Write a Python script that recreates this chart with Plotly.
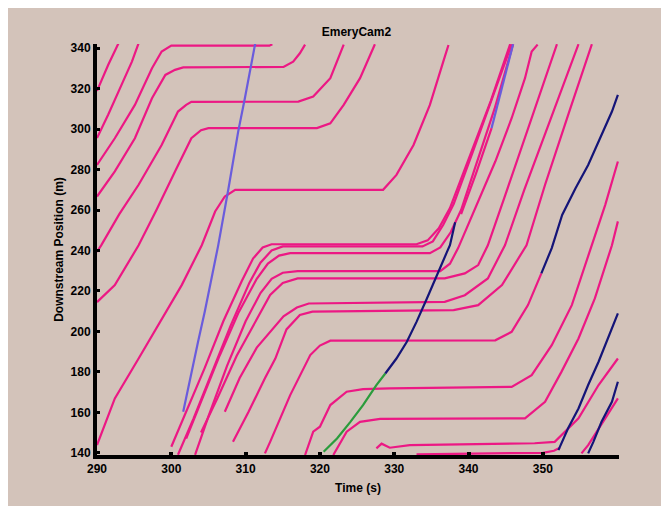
import plotly.graph_objects as go

# ---------------- data (time in s, downstream position in m) ----------------
L1_t = [290.0, 291.5, 292.9]
L1_y = [318.9, 331.7, 342.5]
L2_t = [290.0, 291.5, 293.3, 294.7, 295.6]
L2_y = [295.6, 307.1, 321.9, 333.4, 342.5]
L3_t = [290.0, 292.4, 295.1, 297.4, 298.7, 300.0, 305.0, 313.2, 313.6]
L3_y = [282.3, 295.5, 312.0, 330.1, 338.4, 341.3, 341.3, 341.3, 342.0]
L4_t = [290.0, 292.4, 295.1, 297.4, 299.2, 300.5, 301.6, 315.1, 316.4, 317.3, 318.0]
L4_y = [266.7, 279.1, 295.5, 315.3, 326.8, 329.3, 330.5, 330.8, 333.4, 337.5, 341.8]
L5_t = [290.0, 290.6, 293.0, 295.6, 298.7, 300.9, 302.0, 302.7, 317.1, 319.1, 321.4, 323.2]
L5_y = [239.3, 242.8, 258.0, 272.5, 292.2, 308.7, 312.0, 313.5, 313.6, 316.1, 325.2, 341.8]
L6_t = [290.0, 292.4, 295.6, 298.0, 300.5, 302.7, 304.0, 305.0, 319.6, 321.4, 323.2, 325.4, 327.4]
L6_y = [214.5, 222.9, 242.6, 260.0, 279.1, 295.5, 299.5, 300.5, 300.5, 302.9, 312.0, 325.2, 342.0]
L7_t = [290.0, 292.4, 295.6, 298.7, 301.4, 304.1, 305.9, 307.2, 308.6, 328.5, 330.3, 332.6, 334.8, 336.6, 337.3]
L7_y = [143.8, 166.9, 186.6, 206.4, 222.9, 242.6, 259.3, 266.7, 270.0, 270.0, 277.4, 292.2, 312.0, 333.4, 341.6]

H0_t = [300.0, 302.0, 304.5, 307.0, 309.5, 311.0, 312.3, 313.5, 333.0, 334.5, 336.0, 337.5, 340.0, 343.0, 345.6]
H0_y = [143.0, 160.0, 182.0, 205.0, 225.0, 236.0, 241.5, 243.1, 243.1, 245.0, 251.0, 261.0, 285.0, 314.0, 342.0]
B1_t = [300.9, 303.0, 305.5, 308.0, 310.5, 312.0, 313.5, 315.0, 333.8, 335.2, 336.6, 338.0, 340.5, 343.2, 345.8]
B1_y = [139.0, 157.0, 180.0, 203.0, 224.0, 234.0, 240.0, 242.0, 242.0, 244.5, 252.7, 263.0, 288.0, 315.0, 342.0]
B2_t = [302.0, 304.0, 306.5, 309.0, 311.5, 313.0, 314.5, 316.0, 334.8, 336.2, 337.6, 339.0, 341.0, 343.5, 346.0]
B2_y = [147.0, 165.0, 188.0, 209.0, 226.0, 233.5, 237.5, 238.7, 238.7, 241.5, 249.0, 260.0, 282.0, 310.0, 342.0]
B3_t = [303.2, 305.0, 307.5, 310.0, 312.0, 313.5, 315.0, 317.0, 336.2, 337.5, 338.6, 341.3, 343.6, 345.8, 347.6, 348.5, 349.0, 349.3]
B3_y = [139.0, 158.0, 183.0, 205.0, 219.0, 226.0, 229.0, 229.8, 229.8, 233.5, 241.2, 264.2, 284.0, 305.4, 325.2, 338.4, 340.8, 341.8]
B4_t = [304.0, 306.2, 308.8, 311.3, 313.3, 315.0, 317.0, 336.8, 339.5, 341.3, 342.6, 345.0, 348.0, 350.0, 351.9]
B4_y = [150.0, 167.0, 188.0, 205.0, 218.0, 224.0, 226.2, 226.2, 228.7, 232.8, 242.6, 268.0, 300.0, 321.0, 342.0]
Bb_t = [307.2, 309.2, 311.5, 313.3, 315.1, 316.9, 318.5, 336.8, 339.5, 342.6, 344.9, 347.5, 350.5, 354.8]
Bb_y = [160.3, 177.0, 192.0, 200.0, 207.5, 211.8, 213.8, 214.6, 217.9, 226.2, 242.6, 270.0, 300.0, 342.0]
Bc_t = [308.3, 310.4, 312.6, 314.0, 315.5, 317.3, 319.0, 338.0, 341.3, 344.5, 347.8, 350.3, 353.5, 356.6]
Bc_y = [145.4, 160.3, 176.8, 186.6, 201.0, 208.1, 209.8, 210.5, 213.0, 222.9, 242.6, 272.5, 308.0, 342.0]
P1_t = [312.6, 313.3, 316.0, 318.7, 320.0, 321.4, 343.6, 345.8, 348.0, 349.8]
P1_y = [139.7, 145.4, 168.5, 188.3, 193.0, 195.4, 195.6, 199.8, 213.0, 228.7]
E_t = [318.0, 319.1, 320.0, 321.4, 323.6, 325.8, 329.4, 345.8, 348.5, 351.2, 353.9, 356.6, 358.4, 360.1]
E_y = [138.9, 150.4, 152.9, 163.6, 170.2, 171.5, 171.8, 172.6, 178.4, 193.2, 213.0, 242.6, 262.6, 284.0]
F_t = [321.8, 323.6, 325.4, 328.1, 347.6, 350.3, 352.5, 354.8, 357.0, 359.3, 360.1]
F_y = [138.9, 150.4, 155.3, 156.8, 157.0, 165.2, 180.0, 196.5, 216.3, 242.6, 254.4]
G_t = [327.6, 328.3, 329.4, 332.1, 348.9, 351.6, 354.8, 357.5, 360.1]
G_y = [142.2, 144.5, 142.5, 143.8, 144.7, 145.4, 157.0, 173.5, 186.6]
Hh_t = [355.2, 356.1, 358.4, 360.1]
Hh_y = [139.7, 143.8, 157.0, 166.9]
I_t = [333.0, 340.0, 350.0, 351.5, 352.3]
I_y = [139.2, 139.6, 140.0, 141.0, 142.5]
Q_t = [339.0, 341.0, 343.1]
Q_y = [258.0, 278.0, 300.5]

PURPLE1_t = [301.6, 302.7, 303.6, 304.5, 305.4, 306.3, 307.7, 309.0, 309.9, 310.8, 311.3]
PURPLE1_y = [160.3, 180.0, 194.9, 209.7, 226.2, 242.3, 270.8, 298.8, 315.3, 331.7, 342.5]
PURPLE2_t = [343.1, 344.6, 346.0]
PURPLE2_y = [300.5, 322.0, 342.0]

GREEN_t = [320.5, 322.3, 324.1, 325.8, 327.6, 328.8]
GREEN_y = [140.5, 147.1, 155.3, 163.6, 173.5, 179.2]
N1_t = [328.8, 330.3, 331.7, 333.0, 334.4, 335.7, 337.1, 337.5, 338.2]
N1_y = [179.2, 186.6, 194.9, 204.7, 216.3, 227.8, 239.3, 242.6, 254.0]
N2_t = [349.8, 351.2, 352.6, 354.4, 356.1, 357.9, 359.3, 360.1]
N2_y = [228.7, 241.2, 257.6, 270.8, 282.3, 297.2, 308.7, 316.9]
N3_t = [352.1, 353.4, 354.8, 356.1, 357.5, 358.8, 360.1]
N3_y = [141.3, 152.1, 161.9, 173.5, 185.0, 196.5, 208.9]
N4_t = [356.1, 356.8, 357.9, 359.3, 360.1]
N4_y = [139.7, 145.4, 155.3, 165.2, 175.1]

x_ticks = [290, 300, 310, 320, 330, 340, 350]
y_ticks = [140, 160, 180, 200, 220, 240, 260, 280, 300, 320, 340]

# ---------------- styling ----------------
PINK = "#ec1884"
PURPLE = "#6a5cdc"
NAVY = "#141478"
GREEN = "#2a9c3c"
BG = "#d3c3ba"
FONT = "Liberation Sans"

pink_sets = [(L1_t, L1_y), (L2_t, L2_y), (L3_t, L3_y), (L4_t, L4_y), (L5_t, L5_y),
             (L6_t, L6_y), (L7_t, L7_y), (H0_t, H0_y), (B1_t, B1_y), (B2_t, B2_y),
             (B3_t, B3_y), (B4_t, B4_y), (Bb_t, Bb_y), (Bc_t, Bc_y), (P1_t, P1_y),
             (E_t, E_y), (F_t, F_y), (G_t, G_y), (Hh_t, Hh_y), (I_t, I_y), (Q_t, Q_y)]
other_sets = [(PURPLE1_t, PURPLE1_y, PURPLE), (PURPLE2_t, PURPLE2_y, PURPLE),
              (GREEN_t, GREEN_y, GREEN), (N1_t, N1_y, NAVY), (N2_t, N2_y, NAVY),
              (N3_t, N3_y, NAVY), (N4_t, N4_y, NAVY)]

fig = go.Figure()
for t, y in pink_sets:
    fig.add_trace(go.Scatter(x=t, y=y, mode="lines", line=dict(color=PINK, width=2.2),
                             hoverinfo="skip"))
for t, y, c in other_sets:
    fig.add_trace(go.Scatter(x=t, y=y, mode="lines", line=dict(color=c, width=2.2),
                             hoverinfo="skip"))

W, H = 672, 510
fig.update_layout(
    width=W, height=H,
    margin=dict(l=89, r=W - 611, t=36, b=H - 447),
    paper_bgcolor=BG,
    plot_bgcolor=BG,
    showlegend=False,
    font=dict(family=FONT, size=12, color="black"),
    title=dict(text="EmeryCam2", x=0.497, xref="paper", xanchor="center",
               y=1 - 24 / H, yref="container", yanchor="middle",
               font=dict(family=FONT, size=12, weight="bold", color="black")),
)
fig.update_xaxes(
    range=[290, 360.25], tickvals=x_ticks, ticktext=[str(v) for v in x_ticks],
    showgrid=False, zeroline=False, showline=True, linecolor="black", linewidth=4,
    ticks="inside", ticklen=3, tickwidth=4, tickcolor="black",
    tickfont=dict(family=FONT, size=12, weight="bold"),
    title=dict(text="Time (s)", font=dict(family=FONT, size=12, weight="bold"), standoff=9),
)
fig.update_yaxes(
    range=[138.9, 342.1], tickvals=y_ticks, ticktext=[str(v) for v in y_ticks],
    showgrid=False, zeroline=False, showline=True, linecolor="black", linewidth=4,
    ticks="inside", ticklen=3, tickwidth=3, tickcolor="black",
    tickfont=dict(family=FONT, size=12, weight="bold"),
    title=dict(text="Downstream Position (m)", font=dict(family=FONT, size=12, weight="bold"), standoff=5),
)

fig.write_html("out.html", config={"displayModeBar": False},
               post_script="document.documentElement.style.overflow='hidden';"
                           "document.body.style.overflow='hidden';")
